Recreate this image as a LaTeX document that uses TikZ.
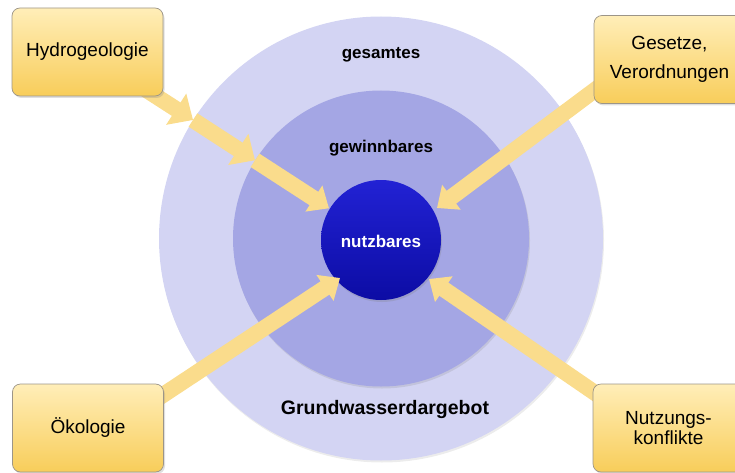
\documentclass[tikz,border=0pt]{standalone}
\usepackage{fontspec}
\setmainfont{Liberation Sans}
\usetikzlibrary{arrows.meta,shadows,calc}
\definecolor{outerc}{HTML}{D3D4F3}
\definecolor{midc}{HTML}{A4A6E4}
\definecolor{innertop}{HTML}{2222D4}
\definecolor{innerbot}{HTML}{0C0CA4}
\definecolor{boxtop}{HTML}{FFEEB8}
\definecolor{boxbot}{HTML}{F8CD5A}
\definecolor{boxedge}{HTML}{9C9588}
\definecolor{arrowc}{HTML}{FADC8C}
\pgfdeclarelayer{bg}
\pgfsetlayers{bg,main}
\begin{document}
\begin{tikzpicture}[x=1pt,y=-1pt,
  infobox/.style={rounded corners=8pt, draw=boxedge, line width=0.7pt,
    top color=boxtop, bottom color=boxbot, minimum width=151pt,
    minimum height=88pt, align=center, inner sep=0pt,
    drop shadow={opacity=0.25, shadow xshift=1.5pt, shadow yshift=-2pt}},
  boxtext/.style={font=\fontsize{19}{29}\selectfont},
  ring/.style={circle, inner sep=0pt},
  ringlabel/.style={font=\bfseries\fontsize{17}{20}\selectfont},
  flow/.style={line width=16pt, draw=arrowc, -{Triangle[width=30pt,length=18pt]}},
  bigflow/.style={line width=16pt, draw=arrowc, -{Triangle[width=36pt,length=20pt]}}]
\useasboundingbox (0,0) rectangle (735,473);

% boxes
\node[infobox, boxtext] (hyd) at (87.5,52) {Hydrogeologie};
\node[infobox, boxtext] (ges) at (669.5,59.5) {Gesetze,\\Verordnungen};
\node[infobox, font=\fontsize{19}{20}\selectfont] (oko) at (88,428) {Ökologie};
\node[infobox, font=\fontsize{19}{20}\selectfont] (nut) at (668.5,428) {Nutzungs-\\konflikte};

\begin{pgfonlayer}{bg}
  \node[ring, fill=outerc, minimum size=444pt,
    drop shadow={opacity=0.15, shadow xshift=1pt, shadow yshift=-2pt}] (outer) at (381,238.5) {};
  \node[ring, fill=midc, minimum size=296pt,
    drop shadow={opacity=0.2, shadow xshift=1pt, shadow yshift=-2pt}] (mid) at (381,238.5) {};
  \node[ring, top color=innertop, bottom color=innerbot, minimum size=120pt,
    drop shadow={opacity=0.25, shadow xshift=1pt, shadow yshift=-2pt}] (inner) at (381,240) {};

  \coordinate (h1) at (193,120);
  \coordinate (h2) at (255,160.3);
  \coordinate (tipH) at (329,208.3);
  \coordinate (tipG) at (437,208);
  \coordinate (tipO) at (340,278);
  \coordinate (tipN) at (429,279);

  \draw[flow] (h2) -- (tipH);
  \draw[bigflow] (h1) -- (h2);
  \draw[bigflow] (hyd.center) -- (h1);
  \draw[flow] ([xshift=16pt,yshift=-19.5pt]ges.west) -- (tipG);
  \draw[flow] ([xshift=-13pt,yshift=25pt]oko.east) -- (tipO);
  \draw[flow] ([xshift=17pt,yshift=25pt]nut.west) -- (tipN);
\end{pgfonlayer}

% labels
\node[ringlabel] (lges) at (381,55) {gesamtes};
\node[ringlabel] (lgew) at (381,148) {gewinnbares};
\node[ringlabel, text=white] (lnutz) at (381,241) {nutzbares};
\node[font=\bfseries\fontsize{19.5}{22}\selectfont] (lgw) at (385,409) {Grundwasserdargebot};
\end{tikzpicture}
\end{document}
